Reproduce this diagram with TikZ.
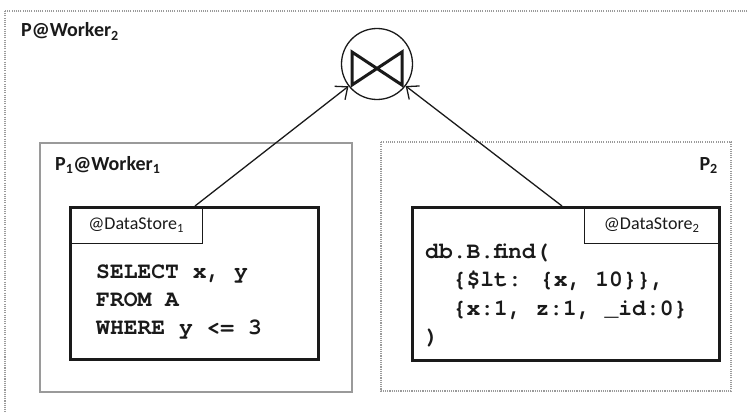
\documentclass[tikz,border=0pt]{standalone}
\usepackage{fontspec}
\setmainfont{Carlito}
\newfontfamily\codefont{texgyrecursor}[Extension=.otf, UprightFont=*-regular, BoldFont=*-bold]
\usetikzlibrary{arrows.meta}
\definecolor{boxgray}{HTML}{9A9A9A}
\definecolor{ink}{HTML}{1A1A1A}
\tikzset{
  dotbox/.style={draw=boxgray, line width=1.1pt, dash pattern=on 1.1pt off 1.1pt},
  solidgray/.style={draw=boxgray, line width=1.3pt},
  dsbox/.style={draw=ink, line width=3.2pt, anchor=north west, inner sep=0pt},
  tabbox/.style={draw=ink, line width=1.3pt, anchor=north west, inner sep=0pt,
    font=\fontsize{18}{20}\selectfont, text=ink},
  title/.style={font=\bfseries\fontsize{20}{24}\selectfont, text=ink, inner sep=0pt},
  code/.style={font=\codefont\bfseries\fontsize{23}{28}\selectfont, text=ink,
    inner sep=0pt, anchor=base west},
  arr/.style={draw=ink, line width=1.3pt, -{Straight Barb[length=10pt,width=17pt]}},
}
\begin{document}
\begin{tikzpicture}[x=1pt,y=-1pt]
\useasboundingbox (0,0) rectangle (748,412);
% outer worker box (extends past the picture on the right and bottom)
\begin{scope}
  \clip (0,0) rectangle (748,412);
  \draw[dotbox] (5,11) rectangle (770,440);
\end{scope}
\node[title, anchor=base west] (w2) at (21,37) {P@Worker\textsubscript{2}};
% P1 box
\draw[solidgray] (40,143) rectangle (352,392);
\node[title, anchor=base west] (p1) at (55,170) {P\textsubscript{1}@Worker\textsubscript{1}};
% P2 box
\draw[dotbox] (381,142) rectangle (731,391);
\node[title, anchor=base east] (p2) at (718,170) {P\textsubscript{2}};
% data store boxes
\node[tabbox, minimum width=133pt, minimum height=37pt] (tab1) at (69,206) {@DataStore\textsubscript{1}};
\node[dsbox, minimum width=248pt, minimum height=152pt] (ds1) at (69,206) {};
\node[tabbox, minimum width=134pt, minimum height=37pt] (tab2) at (584,206) {@DataStore\textsubscript{2}};
\node[dsbox, minimum width=307pt, minimum height=153pt] (ds2) at (411,206) {};
% code
\node[code] (q1a) at (96,278) {SELECT x, y};
\node[code] (q1b) at (96,306) {FROM A};
\node[code] (q1c) at (96,334) {WHERE y <= 3};
\node[code] (q2a) at (425,258) {db.B.find(};
\node[code] (q2b) at (425,286.5) {\phantom{xx}\{\$lt: \{x, 10\}\},};
\node[code] (q2c) at (425,315) {\phantom{xx}\{x:1, z:1, \_id:0\}};
\node[code] (q2d) at (425,343.5) {)};
% join operator
\node[circle, draw=ink, line width=1.3pt, minimum size=71pt, inner sep=0pt] (join) at (377,64) {};
\begin{scope}[shift={(join.center)}]
  \draw[ink, line width=3pt, line join=miter] (-25,-12) -- (25,21) -- (25,-12) -- (-25,21) -- cycle;
\end{scope}
% connectors
\coordinate (s1) at (195,206);
\coordinate (s2) at (562,206);
\draw[arr] (s1) -- (join);
\draw[arr] (s2) -- (join);
\end{tikzpicture}
\end{document}
